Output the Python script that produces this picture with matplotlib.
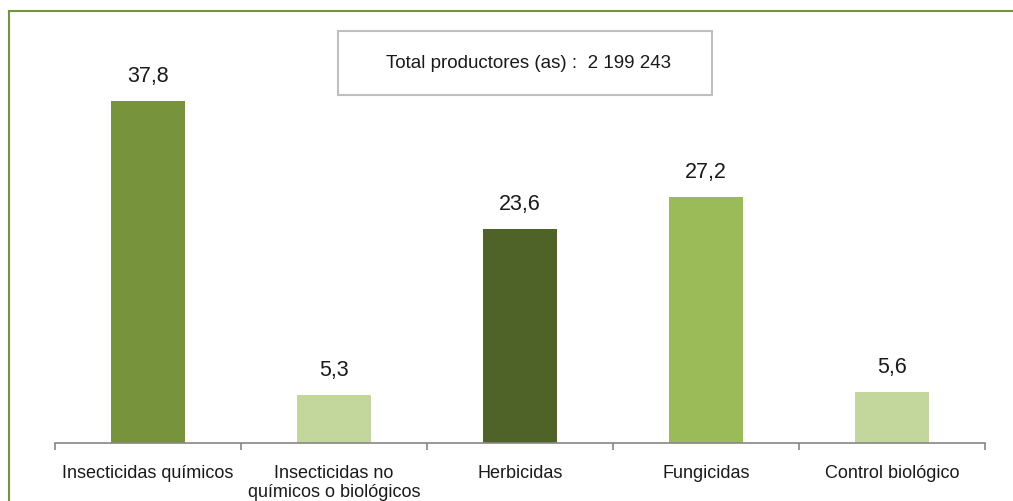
import matplotlib.pyplot as plt
from matplotlib.lines import Line2D
from matplotlib.patches import Rectangle

# datos
categorias = ["Insecticidas químicos", "Insecticidas no\nquímicos o biológicos",
              "Herbicidas", "Fungicidas", "Control biológico"]
porcentajes = [37.8, 5.3, 23.6, 27.2, 5.6]
colores = ["#77933C", "#C3D69B", "#4F6228", "#9BBB59", "#C3D69B"]
total_txt = "Total productores (as) :  2 199 243"

plt.rcParams['font.family'] = ['Liberation Sans Narrow', 'Liberation Sans', 'DejaVu Sans']

W, H = 1013, 502
fig = plt.figure(figsize=(W / 100, H / 100), dpi=100)

# marco verde (arriba e izquierda)
fig.add_artist(Line2D([9 / W, 9 / W], [0, 1 - 12 / H], transform=fig.transFigure,
                      color="#77933C", lw=1.5))
fig.add_artist(Line2D([9 / W, 1], [1 - 12 / H, 1 - 12 / H], transform=fig.transFigure,
                      color="#77933C", lw=1.5))

ax = fig.add_axes([55 / W, 58 / H, 930 / W, 432 / H])
x = list(range(len(categorias)))
barras = ax.bar(x, porcentajes, width=0.40, color=colores)
ax.set_xlim(-0.5, len(categorias) - 0.5)
ax.set_ylim(0, 432 / 9.05)

for b, v in zip(barras, porcentajes):
    ax.annotate(f"{v:.1f}".replace(".", ","), (b.get_x() + b.get_width() / 2, v),
                xytext=(0, 11), textcoords="offset points", ha="center", va="bottom",
                fontsize=15.5, color="#1a1a1a")

for s in ["top", "right", "left"]:
    ax.spines[s].set_visible(False)
ax.spines["bottom"].set_color("#868686")
ax.spines["bottom"].set_linewidth(1.2)
ax.set_yticks([])
ax.set_xticks([i - 0.5 for i in range(len(categorias) + 1)], minor=False)
ax.set_xticklabels([])
ax.tick_params(axis="x", which="major", length=5, color="#868686", width=1.2)
ax.set_xticks(x, minor=True)
ax.set_xticklabels(categorias, minor=True, fontsize=13, color="#1a1a1a", linespacing=1.2)
ax.tick_params(axis="x", which="minor", length=0, pad=15)
for lab in ax.get_xticklabels(minor=True):
    lab.set_verticalalignment("top")

# recuadro con el total
fig.add_artist(Rectangle((338 / W, 1 - 96 / H), 374 / W, 64 / H, transform=fig.transFigure,
                         facecolor="white", edgecolor="#BFBFBF", lw=1.5))
fig.text(528 / W, 1 - 63 / H, total_txt, ha="center", va="center", fontsize=13.5,
         color="#1a1a1a")

fig.savefig("out.png", dpi=100)
